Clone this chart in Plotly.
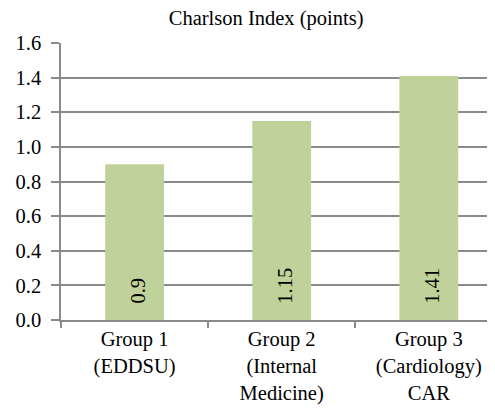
import plotly.graph_objects as go

categories = ["Group 1<br>(EDDSU)", "Group 2<br>(Internal<br>Medicine)", "Group 3<br>(Cardiology)<br>CAR"]
values = [0.9, 1.15, 1.41]
value_labels = ["0.9", "1.15", "1.41"]
y_ticks = [0.0, 0.2, 0.4, 0.6, 0.8, 1.0, 1.2, 1.4, 1.6]
y_tick_labels = ["0.0", "0.2", "0.4", "0.6", "0.8", "1.0", "1.2", "1.4", "1.6"]

font_family = "Liberation Serif, Times New Roman, serif"
FS = 20.5

fig = go.Figure(go.Bar(
    x=categories,
    y=values,
    marker=dict(color="#C0D299", line=dict(width=0)),
    width=0.4,
))

for c, v in zip(categories, value_labels):
    fig.add_annotation(
        x=c, y=0, xref="x", yref="y", text=v, showarrow=False,
        textangle=-90, yanchor="bottom", xanchor="center", yshift=14, xshift=3,
        font=dict(family=font_family, size=FS, color="black"),
    )

# page body has an 8px default margin, so the figure is sized/shifted to compensate
fig.update_layout(
    width=487, height=404,
    margin=dict(l=53, r=0, t=35, b=92, autoexpand=False),
    paper_bgcolor="white", plot_bgcolor="white",
    font=dict(family=font_family, size=FS, color="black"),
    title=dict(text="Charlson Index (points)", x=0.53, xanchor="center", y=1.0, yanchor="top",
               pad=dict(t=3, b=0), font=dict(family=font_family, size=FS, color="black")),
    showlegend=False,
    bargap=0.6,
)
fig.update_xaxes(
    type="category", showline=True, linecolor="#8A8A8A", linewidth=1.5,
    ticks="outside", tickson="boundaries", ticklen=6, tickcolor="#8A8A8A", tickwidth=1.5,
    showgrid=False, tickfont=dict(family=font_family, size=FS),
    range=[-0.5, 2.45], automargin=False,
)
fig.update_yaxes(
    range=[0, 1.6], tickvals=y_ticks, ticktext=y_tick_labels,
    showline=True, linecolor="#8A8A8A", linewidth=1.5,
    ticks="outside", ticklen=8, tickcolor="#8A8A8A", tickwidth=1.5,
    showgrid=True, gridcolor="#8A8A8A", gridwidth=1.5,
    zeroline=False, tickfont=dict(family=font_family, size=FS),
    automargin=False, ticklabelstandoff=6,
)

fig.write_html("out.html")
